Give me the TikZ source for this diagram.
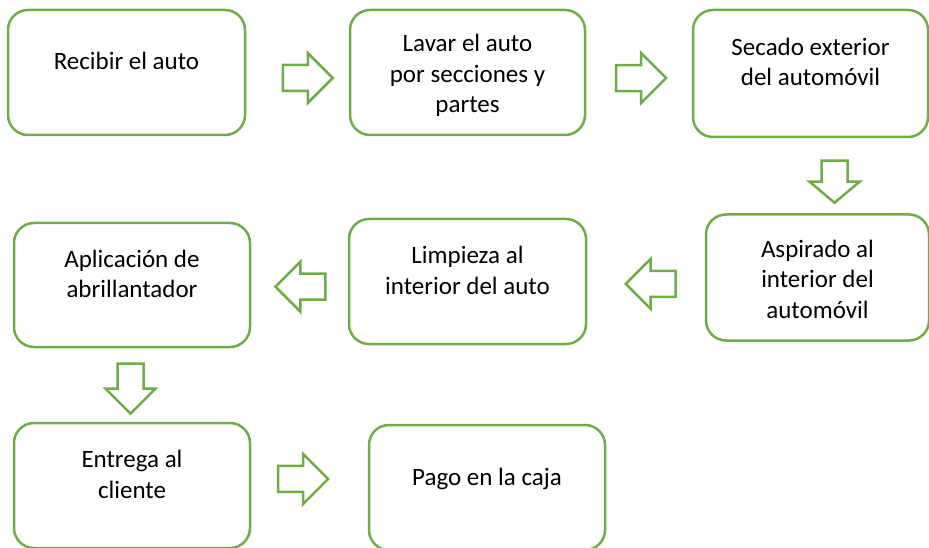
\documentclass[tikz,border=0pt]{standalone}
\usepackage{fontspec}
\setmainfont{Carlito}
\usetikzlibrary{calc}
\definecolor{verde}{HTML}{70AD47}

\tikzset{
  pics/flecha/.style={code={
    \draw[verde, line width=2.5pt, fill=white, line join=miter]
      (-#1,-13) -- (0,-13) -- (0,-25) -- (#1,0) -- (0,25) -- (0,13) -- (-#1,13) -- cycle;
  }},
  pics/flecha/.default=25
}

\begin{document}
\begin{tikzpicture}[x=1pt, y=-1pt, paso/.style={rectangle, draw=verde, line width=2.5pt, rounded corners=20pt, minimum width=236pt, minimum height=125pt, inner sep=0pt, align=center, text height=17pt, text depth=22pt, font=\fontsize{25}{30.5}\selectfont}, dos/.style={text height=30pt, text depth=5pt}, tres/.style={text height=86pt, text depth=5pt}]
		\useasboundingbox (0,0) rectangle (929,548);
		\node[paso, minimum width=237pt] (A) at (126.5,72.5) {Recibir el auto};
		\node[paso, tres, minimum width=235pt] (B) at (467.5,72.5) {Lavar el auto\\por secciones y\\partes};
		\node[paso, dos, minimum width=235pt, minimum height=127pt] (C) at (810.5,73.5) {Secado exterior\\del automóvil};
		\node[paso, tres, minimum width=223pt, minimum height=126pt] (D) at (817.5,277.5) {Aspirado al\\interior del\\automóvil};
		\node[paso, dos, minimum width=237pt] (E) at (467.5,281.5) {Limpieza al\\interior del auto};
		\node[paso, dos, minimum height=124pt] (F) at (132,285) {Aplicación de\\abrillantador};
		\node[paso, dos] (G) at (132,485.5) {Entrega al\\cliente};
		\node[paso] (H) at (487,487.5) {Pago en la caja};
		\path (A.east) -- pic[pos=.6, yshift=-5.5pt] {flecha} (B.west);
		\path (B.east) -- pic[pos=.52, yshift=-5pt] {flecha} (C.west);
		\path (C.south) -- pic[pos=.58, xshift=20pt, rotate=-90] {flecha=21} (D.north);
		\path (D.west) -- pic[pos=.46, yshift=-4.5pt, rotate=180] {flecha} (E.east);
		\path (E.west) -- pic[pos=.49, yshift=-3.5pt, rotate=180] {flecha} (F.east);
		\path (F.south) -- pic[pos=.55, xshift=-1.5pt, rotate=-90] {flecha} (G.north);
		\path (G.east) -- pic[pos=.445, yshift=7.4pt] {flecha} (H.west);
\end{tikzpicture}
\end{document}
